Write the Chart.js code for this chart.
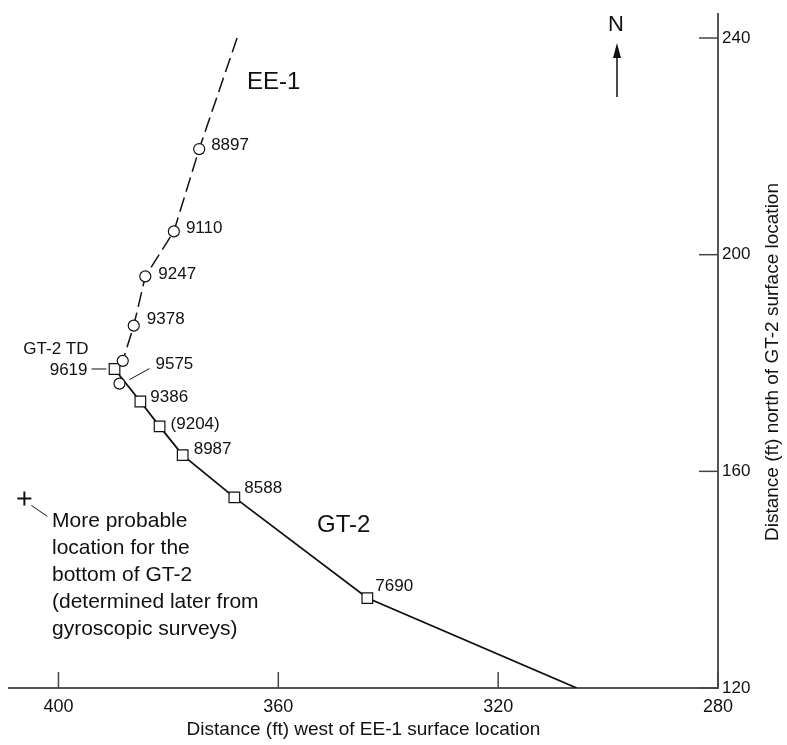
<!DOCTYPE html>
<html>
<head>
<meta charset="utf-8">
<script src="https://cdn.jsdelivr.net/npm/chart.js@4.4.1/dist/chart.umd.min.js"></script>
<style>
  body { margin: 0; background: #fff; }
  #wrap { width: 787px; height: 745px; }
</style>
</head>
<body>
<div id="wrap"><canvas id="plan"></canvas></div>
<script>
// tick values
const xTicks = [400, 360, 320, 280];
const yTicks = [120, 160, 200, 240];

// EE-1 trajectory (ft west, ft north) and measured depths
const ee1West = [367.5, 374.4, 379.0, 384.2, 386.3, 388.3];
const ee1North = [240, 219.5, 204.3, 196.0, 186.9, 180.4];
const ee1Depths = ["", "8897", "9110", "9247", "9378", ""];

// EE-1 point near GT-2 bottom
const ee1LowWest = [388.9];
const ee1LowNorth = [176.2];
const ee1LowDepths = ["9575"];

// GT-2 trajectory
const gt2West = [389.8, 385.1, 381.6, 377.4, 368.0, 343.8, 305.7];
const gt2North = [178.9, 172.9, 168.3, 163.0, 155.2, 136.6, 120];
const gt2Depths = ["9619", "9386", "(9204)", "8987", "8588", "7690", ""];

// later gyro survey bottom of GT-2
const probableWest = [406.2];
const probableNorth = [155.0];

const toPoints = (xs, ys) => xs.map((x, i) => ({ x: x, y: ys[i] }));

const SANS = "'Liberation Sans', Arial, sans-serif";
const INK = "#111";
const Y_TITLE = "Distance (ft) north of GT-2 surface location";

// label offsets from the marker, in px
const labelOffsets = {
  "8897": [12, -4], "9110": [12, -3], "9247": [13, -2], "9378": [13, -6],
  "9386": [10, -4], "(9204)": [11, -2], "8987": [11, -6], "8588": [10, -9],
  "7690": [8, -12], "9575": [36, -19],
};

const labelPlugin = {
  id: "labels",
  afterDatasetsDraw(chart) {
    const ctx = chart.ctx;
    const xs = chart.scales.x, ys = chart.scales.y;
    ctx.save();
    ctx.fillStyle = INK;
    ctx.strokeStyle = INK;
    ctx.lineWidth = 1;
    ctx.textBaseline = "middle";
    ctx.font = "17px " + SANS;

    chart.data.datasets.forEach((ds) => {
      if (!ds.depths) return;
      ds.data.forEach((p, i) => {
        const t = ds.depths[i];
        if (!t) return;
        const px = xs.getPixelForValue(p.x), py = ys.getPixelForValue(p.y);
        if (t === "9619") {
          ctx.textAlign = "right";
          ctx.fillText("9619", px - 27, py + 1);
          ctx.fillText("GT-2 TD", px - 26, py - 20);
          ctx.beginPath();
          ctx.moveTo(px - 23, py); ctx.lineTo(px - 8, py); ctx.stroke();
          return;
        }
        const off = labelOffsets[t];
        ctx.textAlign = "left";
        ctx.fillText(t, px + off[0], py + off[1]);
        if (t === "9575") {
          ctx.beginPath();
          ctx.moveTo(px + 30, py - 15); ctx.lineTo(px + 10, py - 4); ctx.stroke();
        }
      });
    });

    // well names
    ctx.textAlign = "left";
    ctx.font = "24px " + SANS;
    ctx.fillText("EE-1", 247, 82);
    ctx.fillText("GT-2", 317, 525);

    // note for the cross
    const cx = xs.getPixelForValue(probableWest[0]), cy = ys.getPixelForValue(probableNorth[0]);
    ctx.beginPath();
    ctx.moveTo(cx + 7, cy + 7); ctx.lineTo(cx + 23, cy + 18); ctx.stroke();
    ctx.font = "21px " + SANS;
    const note = ["More probable", "location for the", "bottom of GT-2",
      "(determined later from", "gyroscopic surveys)"];
    note.forEach((line, k) => ctx.fillText(line, 52, 521 + k * 27));

    // north arrow
    ctx.textAlign = "center";
    ctx.font = "22px " + SANS;
    ctx.fillText("N", 616, 25);
    ctx.lineWidth = 1.5;
    ctx.beginPath();
    ctx.moveTo(617, 97); ctx.lineTo(617, 56); ctx.stroke();
    ctx.beginPath();
    ctx.moveTo(617, 43); ctx.lineTo(621, 58); ctx.lineTo(613, 58); ctx.closePath(); ctx.fill();

    // inward tick marks
    ctx.strokeStyle = "#444";
    ctx.lineWidth = 1.5;
    const area = chart.chartArea;
    xTicks.forEach((v) => {
      const px = xs.getPixelForValue(v);
      ctx.beginPath(); ctx.moveTo(px, area.bottom); ctx.lineTo(px, area.bottom - 16); ctx.stroke();
    });
    yTicks.forEach((v) => {
      const py = ys.getPixelForValue(v);
      ctx.beginPath(); ctx.moveTo(area.right, py); ctx.lineTo(area.right - 19, py); ctx.stroke();
    });

    // right axis title, reading bottom to top
    ctx.translate(773, 362);
    ctx.rotate(-Math.PI / 2);
    ctx.textAlign = "center";
    ctx.font = "19px " + SANS;
    ctx.fillText(Y_TITLE, 0, 0);
    ctx.restore();
  },
};

const planCtx = document.getElementById("plan").getContext("2d");
const planChart = new Chart(planCtx, {
  type: "scatter",
  data: {
    datasets: [
      {
        label: "EE-1",
        data: toPoints(ee1West, ee1North),
        depths: ee1Depths,
        showLine: true,
        borderColor: INK,
        borderWidth: 1.5,
        borderDash: [15, 6],
        pointStyle: "circle",
        pointRadius: ee1Depths.map((d, i) => (i === 0 ? 0 : 5.5)),
        pointBackgroundColor: "#fff",
        pointBorderColor: INK,
        pointBorderWidth: 1.2,
      },
      {
        label: "EE-1 low",
        data: toPoints(ee1LowWest, ee1LowNorth),
        depths: ee1LowDepths,
        pointStyle: "circle",
        pointRadius: 5.5,
        pointBackgroundColor: "#fff",
        pointBorderColor: INK,
        pointBorderWidth: 1.2,
      },
      {
        label: "GT-2",
        data: toPoints(gt2West, gt2North),
        depths: gt2Depths,
        showLine: true,
        borderColor: INK,
        borderWidth: 1.8,
        pointStyle: "rect",
        pointRadius: gt2Depths.map((d) => (d ? 7.5 : 0)),
        pointBackgroundColor: "#fff",
        pointBorderColor: INK,
        pointBorderWidth: 1.2,
      },
      {
        label: "Probable bottom",
        data: toPoints(probableWest, probableNorth),
        pointStyle: "cross",
        pointRadius: 7,
        pointBorderColor: INK,
        pointBorderWidth: 2,
      },
    ],
  },
  options: {
    responsive: true,
    maintainAspectRatio: false,
    animation: false,
    layout: { padding: { left: 7, top: 3, right: 0, bottom: 0 } },
    plugins: { legend: { display: false }, tooltip: { enabled: false } },
    scales: {
      x: {
        type: "linear",
        reverse: true,
        min: 280,
        max: 409,
        afterBuildTicks: (s) => { s.ticks = xTicks.map((v) => ({ value: v })); },
        afterFit: (s) => { s.height = 57; },
        grid: { drawOnChartArea: false, drawTicks: false },
        border: { color: "#555", width: 2 },
        ticks: { padding: 8, color: INK, font: { family: SANS, size: 18 } },
        title: {
          display: true,
          text: "Distance (ft) west of EE-1 surface location",
          color: INK,
          font: { family: SANS, size: 19 },
          padding: { top: 0, bottom: 4 },
        },
      },
      y: {
        type: "linear",
        position: "right",
        min: 120,
        max: 244.4,
        afterBuildTicks: (s) => { s.ticks = yTicks.map((v) => ({ value: v })); },
        afterFit: (s) => { s.width = 69; },
        grid: { drawOnChartArea: false, drawTicks: false },
        border: { color: "#555", width: 2 },
        ticks: { padding: 4, color: INK, font: { family: SANS, size: 17 } },
        title: { display: false },
      },
    },
  },
  plugins: [labelPlugin],
});
</script>
</body>
</html>
